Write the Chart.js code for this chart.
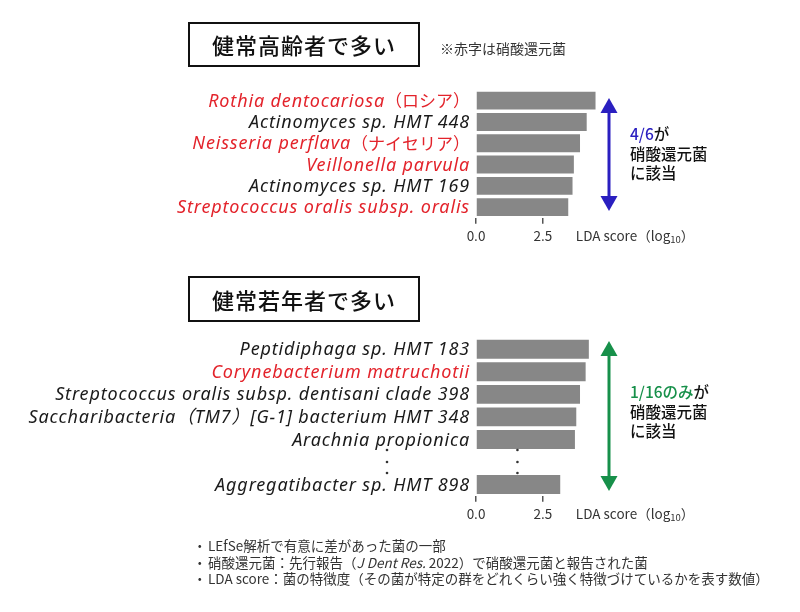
<!DOCTYPE html>
<html lang="ja">
<head>
<meta charset="utf-8">
<script src="https://cdn.jsdelivr.net/npm/chart.js@4.4.1/dist/chart.umd.min.js"></script>
<style>
  body { margin: 0; background: #fff; font-family: "Noto Sans CJK JP", "Noto Sans", sans-serif; }
  #page { position: relative; width: 800px; height: 612px; overflow: hidden; }
  canvas { position: absolute; left: 0; top: 0; }
  .box { position: absolute; left: 188px; width: 232px; height: 45px; box-sizing: border-box;
         border: 2px solid #111; text-align: center; font-size: 22px; font-weight: 500;
         letter-spacing: 1px; color: #111; }
  .note { position: absolute; font-size: 14px; color: #333; }
  .side { position: absolute; left: 630px; font-size: 15.5px; line-height: 19.5px; color: #111; font-weight: 500; }
  .foot { position: absolute; left: 193px; top: 537px; font-size: 13.5px; line-height: 16.7px; color: #333; }
  .foot div span.b { display: inline-block; width: 15px; }
</style>
</head>
<body>
<div id="page">
  <canvas id="chartOld" width="800" height="612"></canvas>
  <canvas id="chartYoung" width="800" height="612"></canvas>

  <div class="box" style="top:22px; line-height:41px;">健常高齢者で多い</div>
  <div class="note" style="left:440px; top:38px;">※赤字は硝酸還元菌</div>
  <div class="side" style="top:124px;"><span style="color:#2a1fc0">4/6</span>が<br>硝酸還元菌<br>に該当</div>

  <div class="box" style="top:276px; height:46px; line-height:42px;">健常若年者で多い</div>
  <div class="side" style="top:382px;"><span style="color:#17904a">1/16のみ</span>が<br>硝酸還元菌<br>に該当</div>

  <div class="foot">
    <div><span class="b">・</span>LEfSe解析で有意に差があった菌の一部</div>
    <div><span class="b">・</span>硝酸還元菌：先行報告（<i>J Dent Res.</i> 2022）で硝酸還元菌と報告された菌</div>
    <div><span class="b">・</span>LDA score：菌の特徴度（その菌が特定の群をどれくらい強く特徴づけているかを表す数値）</div>
  </div>
</div>

<script>
// healthy elderly
const oldNames = ["Rothia dentocariosa", "Actinomyces sp. HMT 448", "Neisseria perflava", "Veillonella parvula", "Actinomyces sp. HMT 169", "Streptococcus oralis subsp. oralis"];
const oldJp = ["（ロシア）", "", "（ナイセリア）", "", "", ""];
const oldNitrate = [true, false, true, true, false, true];
const oldValues = [4.47, 4.14, 3.89, 3.66, 3.61, 3.45];

// healthy young (empty row = the "..." gap)
const youngNames = ["Peptidiphaga sp. HMT 183", "Corynebacterium matruchotii", "Streptococcus oralis subsp. dentisani clade 398", "Saccharibacteria（TM7）[G-1] bacterium HMT 348", "Arachnia propionica", "", "Aggregatibacter sp. HMT 898"];
const youngJp = ["", "", "", "", "", "", ""];
const youngNitrate = [false, true, false, false, false, false, false];
const youngValues = [4.22, 4.10, 3.89, 3.75, 3.70, null, 3.15];

const xTicks = [0, 2.5];

const RED = '#e3232b';
const BLACK = '#1a1a1a';
const BAR = '#878787';
const LATIN = '"Noto Sans", "Noto Sans CJK JP", sans-serif';
const JP = '"Noto Sans CJK JP", sans-serif';

const labelPlugin = {
    id: 'labelPlugin',
    afterDraw(chart, args, opts) {
        const { ctx, chartArea, scales: { x, y } } = chart;
        ctx.save();
        ctx.textBaseline = 'middle';
        ctx.textAlign = 'right';
        opts.names.forEach((name, i) => {
            const cy = y.getPixelForValue(i);
            let r = chartArea.left - 6;
            ctx.fillStyle = opts.nitrate[i] ? RED : BLACK;
            if (opts.jp[i]) {
                ctx.letterSpacing = '0px';
                ctx.font = '17px ' + JP;
                ctx.fillText(opts.jp[i], r, cy);
                r -= ctx.measureText(opts.jp[i]).width;
            }
            if (name) {
                ctx.letterSpacing = '0.85px';
                ctx.font = 'italic 18px ' + LATIN;
                ctx.fillText(name, r, cy + 1);
            } else {
                // vertical dots for skipped rows
                ctx.fillStyle = '#333';
                [387, x.getPixelForValue(1.55)].forEach(dx => {
                    [-12, 0, 11].forEach(dy => {
                        ctx.beginPath();
                        ctx.arc(dx, cy + dy, 1.3, 0, Math.PI * 2);
                        ctx.fill();
                    });
                });
            }
        });
        ctx.letterSpacing = '0px';

        // axis title
        const ty = chartArea.bottom + 18;
        let tx = x.getPixelForValue(2.5) + 33;
        ctx.textAlign = 'left';
        ctx.fillStyle = '#333';
        ctx.font = '13.5px ' + JP;
        ctx.fillText('LDA score（log', tx, ty);
        tx += ctx.measureText('LDA score（log').width;
        ctx.font = '9.5px ' + JP;
        ctx.fillText('10', tx, ty + 4);
        tx += ctx.measureText('10').width;
        ctx.font = '13.5px ' + JP;
        ctx.fillText('）', tx, ty);

        // double arrow
        const a = opts.arrow;
        ctx.strokeStyle = a.color;
        ctx.fillStyle = a.color;
        ctx.lineWidth = 3;
        ctx.beginPath();
        ctx.moveTo(a.x, a.top + 10);
        ctx.lineTo(a.x, a.bottom - 10);
        ctx.stroke();
        ctx.beginPath();
        ctx.moveTo(a.x, a.top);
        ctx.lineTo(a.x - 8.5, a.top + 15);
        ctx.lineTo(a.x + 8.5, a.top + 15);
        ctx.closePath();
        ctx.fill();
        ctx.beginPath();
        ctx.moveTo(a.x, a.bottom);
        ctx.lineTo(a.x - 8.5, a.bottom - 15);
        ctx.lineTo(a.x + 8.5, a.bottom - 15);
        ctx.closePath();
        ctx.fill();
        ctx.restore();
    }
};

function makeChart(id, names, jp, nitrate, values, pad, arrow) {
    return new Chart(id, {
        type: 'bar',
        data: {
            labels: names,
            datasets: [{
                data: values,
                backgroundColor: BAR,
                borderWidth: 0,
                categoryPercentage: 1,
                barPercentage: 0.84
            }]
        },
        options: {
            indexAxis: 'y',
            responsive: false,
            animation: false,
            events: [],
            layout: { padding: pad },
            plugins: {
                legend: { display: false },
                tooltip: { enabled: false },
                labelPlugin: { names: names, jp: jp, nitrate: nitrate, arrow: arrow }
            },
            scales: {
                x: {
                    min: 0,
                    max: 4.6,
                    afterBuildTicks: s => { s.ticks = xTicks.map(v => ({ value: v })); },
                    ticks: {
                        callback: v => v.toFixed(1),
                        color: '#333',
                        font: { size: 13.5, family: JP },
                        padding: 4,
                        maxRotation: 0
                    },
                    grid: { drawOnChartArea: false, drawTicks: true, tickLength: 6, color: '#555', lineWidth: 1.5 },
                    border: { display: false }
                },
                y: { display: false }
            }
        },
        plugins: [labelPlugin]
    });
}

makeChart('chartOld', oldNames, oldJp, oldNitrate, oldValues,
    { left: 476, right: 201, top: 90, bottom: 364 },
    { x: 609, top: 98, bottom: 211, color: '#2a1fc0' });

makeChart('chartYoung', youngNames, youngJp, youngNitrate, youngValues,
    { left: 476, right: 201, top: 338, bottom: 86 },
    { x: 609, top: 341, bottom: 491, color: '#17904a' });
</script>
</body>
</html>
